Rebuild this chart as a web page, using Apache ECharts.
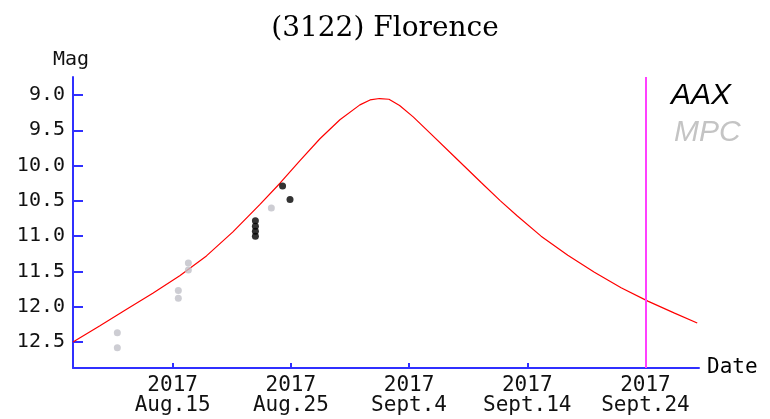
<!DOCTYPE html>
<html>
<head>
<meta charset="utf-8">
<script src="https://cdn.jsdelivr.net/npm/echarts@6/dist/echarts.min.js"></script>
<style>html,body{margin:0;padding:0;background:#fff}#c{width:770px;height:419px}</style>
</head>
<body>
<div id="c"></div>
<script>
// x values are "day of August 2017" (Sept 4 = 35)
const titleText = "(3122) Florence";
const tickDays = [15, 25, 35, 45, 55];
const tickLabels = ["Aug.15", "Aug.25", "Sept.4", "Sept.14", "Sept.24"];
const tickYear = "2017";
const magTicks = [9.0, 9.5, 10.0, 10.5, 11.0, 11.5, 12.0, 12.5];
const markerDay = 55;

const curveDays = [6.57, 8.85, 11.07, 13.32, 15.6, 17.86, 20.1, 22.39, 24.08, 25.77, 27.46, 29.15, 30.84, 31.7, 32.5, 33.3, 34.2, 35.35, 36.78, 38.76, 41.1, 42.73, 44.14, 46.17, 48.43, 50.68, 52.94, 55.2, 57.46, 59.38];
const curveMags = [12.5, 12.27, 12.04, 11.81, 11.56, 11.28, 10.94, 10.55, 10.25, 9.93, 9.62, 9.35, 9.14, 9.07, 9.05, 9.06, 9.15, 9.31, 9.54, 9.86, 10.24, 10.50, 10.71, 11.00, 11.27, 11.51, 11.73, 11.92, 12.09, 12.23];

const aaxDays = [22.0, 22.0, 22.0, 22.0, 24.3, 24.93];
const aaxMags = [10.78, 10.86, 10.93, 11.0, 10.29, 10.48];

const mpcDays = [10.32, 10.32, 15.48, 15.48, 16.33, 16.33, 23.35];
const mpcMags = [12.37, 12.58, 11.77, 11.88, 11.38, 11.48, 10.60];

const zip = (a, b) => a.map((v, i) => [v, b[i]]);
const axisBlue = '#3030ff';
const mono = 'DejaVu Sans Mono';

const chart = echarts.init(document.getElementById('c'), null, {renderer: 'canvas'});
chart.setOption({
  animation: false,
  backgroundColor: '#ffffff',
  title: {
    text: titleText,
    left: 'center',
    top: 10,
    textStyle: {fontFamily: 'DejaVu Serif', fontSize: 28, fontWeight: 'normal', color: '#000'}
  },
  grid: {left: 73, right: 71, top: 77, bottom: 51, containLabel: false},
  xAxis: {
    type: 'value',
    min: 6.57,
    max: 59.53,
    name: 'Date',
    nameLocation: 'end',
    nameGap: 8,
    nameTextStyle: {fontFamily: mono, fontSize: 21, color: '#000', verticalAlign: 'middle'},
    axisLine: {lineStyle: {color: axisBlue, width: 2}},
    axisTick: {show: true, inside: true, length: 5, lineStyle: {color: axisBlue, width: 2}, customValues: tickDays},
    axisLabel: {
      customValues: tickDays,
      margin: 8,
      fontFamily: mono, fontSize: 21, lineHeight: 20, color: '#111',
      formatter: v => tickYear + '\n' + tickLabels[tickDays.indexOf(Math.round(v))]
    },
    splitLine: {show: false}
  },
  yAxis: {
    type: 'value',
    inverse: true,
    min: 8.745,
    max: 12.868,
    axisLine: {show: true, lineStyle: {color: axisBlue, width: 2}},
    axisTick: {show: true, inside: true, length: 10, lineStyle: {color: axisBlue, width: 2}, customValues: magTicks},
    axisLabel: {
      customValues: magTicks,
      margin: 8,
      fontFamily: mono, fontSize: 20, color: '#111',
      formatter: v => Number(v).toFixed(1)
    },
    splitLine: {show: false}
  },
  graphic: [
    {type: 'text', left: 53, top: 50, style: {text: 'Mag', fontFamily: mono, fontSize: 20, fill: '#111'}},
    {type: 'text', x: 671, y: 96, style: {text: 'AAX', fontFamily: 'Liberation Sans', fontStyle: 'italic', fontSize: 30, fill: '#000', verticalAlign: 'middle'}},
    {type: 'text', x: 674, y: 133, style: {text: 'MPC', fontFamily: 'Liberation Sans', fontStyle: 'italic', fontSize: 30, fill: '#c4c4c4', verticalAlign: 'middle'}}
  ],
  series: [
    {
      type: 'line',
      data: zip(curveDays, curveMags),
      smooth: false,
      symbol: 'none',
      lineStyle: {color: '#ff0000', width: 1.2},
      markLine: {
        silent: true,
        symbol: 'none',
        label: {show: false},
        lineStyle: {color: '#ff40ff', width: 2, type: 'solid'},
        data: [{xAxis: markerDay}]
      },
      z: 3
    },
    {
      type: 'scatter',
      data: zip(mpcDays, mpcMags),
      symbol: 'circle',
      symbolSize: 7,
      itemStyle: {color: '#c0c0c8'},
      z: 4
    },
    {
      type: 'scatter',
      data: zip(aaxDays, aaxMags),
      symbol: 'circle',
      symbolSize: 7,
      itemStyle: {color: '#000000'},
      z: 5
    }
  ]
});
</script>
</body>
</html>
